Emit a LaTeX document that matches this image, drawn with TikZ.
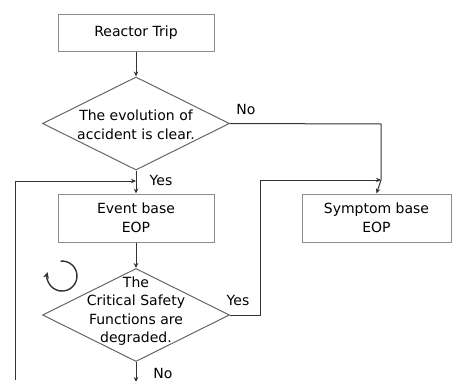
\documentclass[tikz,border=0pt]{standalone}
\usepackage{fontspec}
\setmainfont{DejaVu Sans}
\usetikzlibrary{shapes.geometric,arrows.meta}
\begin{document}
\begin{tikzpicture}[x=1pt,y=1pt,
  font=\fontsize{14}{18.5}\selectfont,
  box/.style={draw=black!45,line width=1pt,minimum width=156pt,align=center,inner sep=0pt,text=black},
  dia/.style={draw=black!60,line width=1pt,diamond,inner sep=0pt,minimum width=187pt,minimum height=93pt},
  txt/.style={align=center,inner sep=0pt,text=black},
  conn/.style={draw=black!80,line width=1pt},
  arr/.style={conn,-{Stealth[length=5pt,width=4.5pt]}},
  lbl/.style={text=black}]
\useasboundingbox (0,0) rectangle (452,-380);
\node[box,minimum height=37pt] (trip) at (136,-32.5) {Reactor Trip};
\node[dia] (d1) at (136,-123.5) {};
\node[txt] (d1t) at (136,-125) {The evolution of\\accident is clear.};
\node[box,minimum height=48pt] (event) at (136,-218) {Event base\\EOP};
\node[box,minimum height=48pt,minimum width=149pt] (sympt) at (376.5,-218) {Symptom base\\EOP};
\node[dia] (d2) at (136,-315) {};
\node[txt] (d2t) at (136,-311) {The\\Critical Safety\\Functions are\\degraded.};
\coordinate (j1) at (381,-124);
\coordinate (j2) at (381,-180);
\coordinate (y1) at (136,-181);
\coordinate (l1) at (15,-181);
\coordinate (l2) at (15,-380);
\coordinate (r1) at (260,-315);
\coordinate (r2) at (260,-180);
\coordinate (bot) at (136,-382);
\draw[arr] (trip.south) -- (d1.north);
\draw[arr] (d1.south) -- (event.north);
\draw[conn] (d1.east) -- (j1) -- (j2);
\draw[arr] (j2) -- (sympt.north);
\draw[arr] (l2) -- (l1) -- (y1);
\draw[arr] (d2.east) -- (r1) -- (r2) -- (j2);
\draw[arr] (event.south) -- (d2.north);
\draw[arr] (d2.south) -- (bot);
\node[lbl] (no1) at (246,-109) {No};
\node[lbl] (yes1) at (161,-180) {Yes};
\node[lbl] (yes2) at (238,-300) {Yes};
\node[lbl] (no2) at (163,-373) {No};
\draw[conn,line width=1.4pt,-{Stealth[length=6pt,width=6pt]}] (60.7,-261.1) arc[start angle=95,end angle=-195,radius=15];
\end{tikzpicture}
\end{document}
